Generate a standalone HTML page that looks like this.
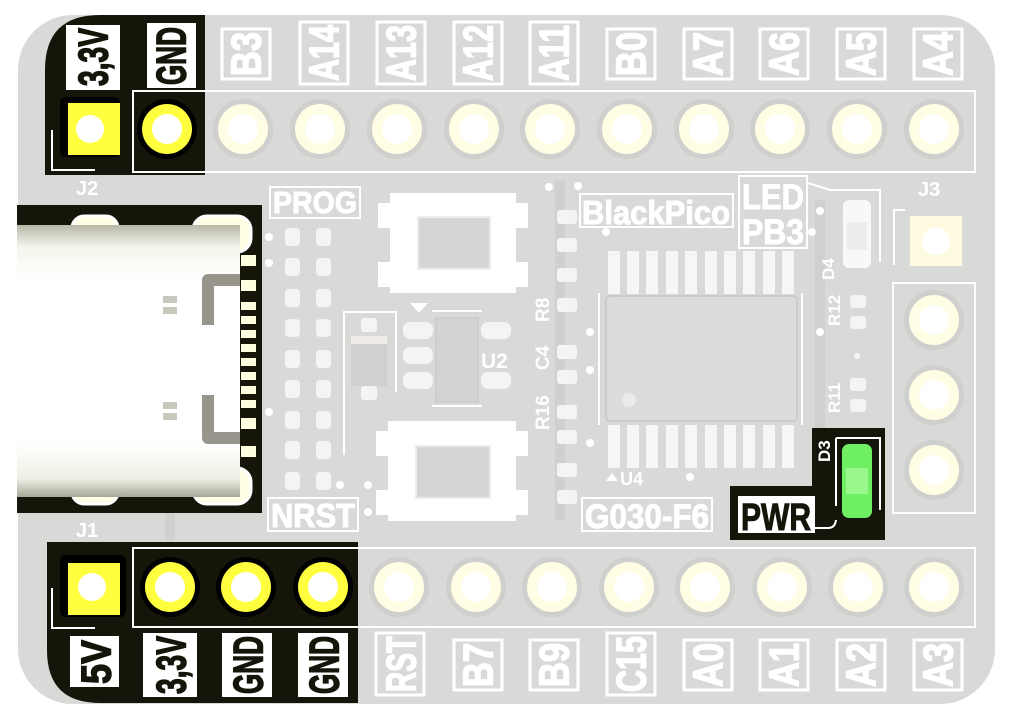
<!DOCTYPE html>
<html><head><meta charset="utf-8"><style>
html,body{margin:0;padding:0;background:#fff;}
svg{display:block;}
text{font-family:"Liberation Sans",sans-serif;font-weight:bold;}
</style></head><body>
<svg width="1009" height="721" viewBox="0 0 1009 721" xmlns="http://www.w3.org/2000/svg">
<defs>
<linearGradient id="usb" x1="0" y1="0" x2="0" y2="1">
<stop offset="0" stop-color="#b8b8a8"/><stop offset="0.08" stop-color="#f4f4ec"/><stop offset="0.2" stop-color="#fff"/><stop offset="0.8" stop-color="#fff"/><stop offset="0.93" stop-color="#f0f0e6"/><stop offset="1" stop-color="#a8a898"/>
</linearGradient>
</defs>
<rect x="18" y="15" width="977" height="689" rx="55" fill="#d9d9d7"/>
<g stroke="#d0d0ce" stroke-width="10" fill="none">
<path d="M170 260 L170 540"/><path d="M560 180 L560 520"/><path d="M820 200 L820 480"/>
</g>
<path d="M45 175 L45 70 Q45 15 100 15 L205 15 L205 175 Z" fill="#15150a"/>
<path d="M47 542 L358 542 L358 703 L100 703 Q47 703 47 650 Z" fill="#15150a"/>
<rect x="17" y="205" width="245" height="308" fill="#15150a"/>
<path d="M730 486 L812 486 L812 428 L885 428 L885 540 L730 540 Z" fill="#15150a"/>

<rect x="133" y="91" width="842" height="81" fill="none" stroke="#fff" stroke-width="2"/>
<rect x="133" y="548" width="842" height="79" fill="none" stroke="#fff" stroke-width="2"/>
<path d="M52 130 L52 170 L95 170" fill="none" stroke="#fff" stroke-width="2"/>
<path d="M52 588 L52 628 L95 628" fill="none" stroke="#fff" stroke-width="2"/>

<g>
<rect x="60" y="97" width="60" height="60" rx="6" fill="#000"/>
<rect x="68" y="103" width="52" height="52" fill="#ffff40"/>
<circle cx="90" cy="129" r="14" fill="#fff"/>
<circle cx="167" cy="129" r="30" fill="#000"/><circle cx="167" cy="129" r="25" fill="#ffff40"/><circle cx="167" cy="129" r="15" fill="#fff"/>
</g>
<g fill="#cfcfcd">
<circle cx="243" cy="129" r="30"/><circle cx="320" cy="129" r="30"/><circle cx="397" cy="129" r="30"/><circle cx="474" cy="129" r="30"/><circle cx="550" cy="129" r="30"/><circle cx="627" cy="129" r="30"/><circle cx="704" cy="129" r="30"/><circle cx="780" cy="129" r="30"/><circle cx="857" cy="129" r="30"/><circle cx="934" cy="129" r="30"/>
</g>
<g fill="#fffde4">
<circle cx="243" cy="129" r="25"/><circle cx="320" cy="129" r="25"/><circle cx="397" cy="129" r="25"/><circle cx="474" cy="129" r="25"/><circle cx="550" cy="129" r="25"/><circle cx="627" cy="129" r="25"/><circle cx="704" cy="129" r="25"/><circle cx="780" cy="129" r="25"/><circle cx="857" cy="129" r="25"/><circle cx="934" cy="129" r="25"/>
</g>
<g fill="#fff">
<circle cx="243" cy="129" r="15"/><circle cx="320" cy="129" r="15"/><circle cx="397" cy="129" r="15"/><circle cx="474" cy="129" r="15"/><circle cx="550" cy="129" r="15"/><circle cx="627" cy="129" r="15"/><circle cx="704" cy="129" r="15"/><circle cx="780" cy="129" r="15"/><circle cx="857" cy="129" r="15"/><circle cx="934" cy="129" r="15"/>
</g>

<g>
<rect x="60" y="555" width="66" height="62" rx="6" fill="#000"/>
<rect x="68" y="563" width="52" height="52" fill="#ffff40"/>
<circle cx="92" cy="587" r="14" fill="#fff"/>
<circle cx="170" cy="587" r="30" fill="#000"/><circle cx="170" cy="587" r="25" fill="#ffff40"/><circle cx="170" cy="587" r="15" fill="#fff"/>
<circle cx="246" cy="587" r="30" fill="#000"/><circle cx="246" cy="587" r="25" fill="#ffff40"/><circle cx="246" cy="587" r="15" fill="#fff"/>
<circle cx="323" cy="587" r="30" fill="#000"/><circle cx="323" cy="587" r="25" fill="#ffff40"/><circle cx="323" cy="587" r="15" fill="#fff"/>
</g>
<g fill="#cfcfcd">
<circle cx="399" cy="587" r="30"/><circle cx="476" cy="587" r="30"/><circle cx="552" cy="587" r="30"/><circle cx="629" cy="587" r="30"/><circle cx="705" cy="587" r="30"/><circle cx="782" cy="587" r="30"/><circle cx="858" cy="587" r="30"/><circle cx="934" cy="587" r="30"/>
</g>
<g fill="#fffde4">
<circle cx="399" cy="587" r="25"/><circle cx="476" cy="587" r="25"/><circle cx="552" cy="587" r="25"/><circle cx="629" cy="587" r="25"/><circle cx="705" cy="587" r="25"/><circle cx="782" cy="587" r="25"/><circle cx="858" cy="587" r="25"/><circle cx="934" cy="587" r="25"/>
</g>
<g fill="#fff">
<circle cx="399" cy="587" r="15"/><circle cx="476" cy="587" r="15"/><circle cx="552" cy="587" r="15"/><circle cx="629" cy="587" r="15"/><circle cx="705" cy="587" r="15"/><circle cx="782" cy="587" r="15"/><circle cx="858" cy="587" r="15"/><circle cx="934" cy="587" r="15"/>
</g>

<g fill="#fff">
<rect x="66" y="25" width="54" height="65"/>
<rect x="147" y="23" width="49" height="65"/>
</g>
<g fill="none" stroke="#fff" stroke-width="3">
<rect x="222" y="29" width="48" height="50"/>
<rect x="300" y="22" width="48" height="62"/>
<rect x="377" y="22" width="48" height="62"/>
<rect x="454" y="22" width="48" height="62"/>
<rect x="530" y="22" width="48" height="62"/>
<rect x="607" y="29" width="48" height="50"/>
<rect x="684" y="29" width="48" height="50"/>
<rect x="760" y="29" width="48" height="50"/>
<rect x="837" y="29" width="48" height="50"/>
<rect x="914" y="29" width="48" height="50"/>
</g>
<g font-size="42" text-anchor="middle" dominant-baseline="central" stroke-width="1.5">
<text transform="translate(93,57) rotate(-90)" fill="#15150a" stroke="#15150a" textLength="58" lengthAdjust="spacingAndGlyphs">3,3V</text>
<text transform="translate(171,56) rotate(-90)" fill="#15150a" stroke="#15150a" textLength="58" lengthAdjust="spacingAndGlyphs">GND</text>
<text transform="translate(246,54) rotate(-90)" fill="#fff" stroke="#fff" textLength="44" lengthAdjust="spacingAndGlyphs">B3</text>
<text transform="translate(324,53) rotate(-90)" fill="#fff" stroke="#fff" textLength="56" lengthAdjust="spacingAndGlyphs">A14</text>
<text transform="translate(401,53) rotate(-90)" fill="#fff" stroke="#fff" textLength="56" lengthAdjust="spacingAndGlyphs">A13</text>
<text transform="translate(478,53) rotate(-90)" fill="#fff" stroke="#fff" textLength="56" lengthAdjust="spacingAndGlyphs">A12</text>
<text transform="translate(554,53) rotate(-90)" fill="#fff" stroke="#fff" textLength="56" lengthAdjust="spacingAndGlyphs">A11</text>
<text transform="translate(631,54) rotate(-90)" fill="#fff" stroke="#fff" textLength="44" lengthAdjust="spacingAndGlyphs">B0</text>
<text transform="translate(708,54) rotate(-90)" fill="#fff" stroke="#fff" textLength="44" lengthAdjust="spacingAndGlyphs">A7</text>
<text transform="translate(784,54) rotate(-90)" fill="#fff" stroke="#fff" textLength="44" lengthAdjust="spacingAndGlyphs">A6</text>
<text transform="translate(861,54) rotate(-90)" fill="#fff" stroke="#fff" textLength="44" lengthAdjust="spacingAndGlyphs">A5</text>
<text transform="translate(938,54) rotate(-90)" fill="#fff" stroke="#fff" textLength="44" lengthAdjust="spacingAndGlyphs">A4</text>
</g>

<g fill="#fff">
<rect x="70" y="636" width="49" height="51"/>
<rect x="143" y="633" width="54" height="64"/>
<rect x="222" y="633" width="50" height="64"/>
<rect x="298" y="633" width="50" height="64"/>
</g>
<g fill="none" stroke="#fff" stroke-width="3">
<rect x="376" y="633" width="48" height="62"/>
<rect x="454" y="640" width="48" height="50"/>
<rect x="530" y="640" width="48" height="50"/>
<rect x="607" y="633" width="48" height="62"/>
<rect x="684" y="640" width="48" height="50"/>
<rect x="760" y="640" width="48" height="50"/>
<rect x="837" y="640" width="48" height="50"/>
<rect x="914" y="640" width="48" height="50"/>
</g>
<g font-size="42" text-anchor="middle" dominant-baseline="central" stroke-width="1.5">
<text transform="translate(96,662) rotate(-90)" fill="#15150a" stroke="#15150a" textLength="44" lengthAdjust="spacingAndGlyphs">5V</text>
<text transform="translate(171,665) rotate(-90)" fill="#15150a" stroke="#15150a" textLength="58" lengthAdjust="spacingAndGlyphs">3,3V</text>
<text transform="translate(248,665) rotate(-90)" fill="#15150a" stroke="#15150a" textLength="58" lengthAdjust="spacingAndGlyphs">GND</text>
<text transform="translate(324,665) rotate(-90)" fill="#15150a" stroke="#15150a" textLength="58" lengthAdjust="spacingAndGlyphs">GND</text>
<text transform="translate(401,664) rotate(-90)" fill="#fff" stroke="#fff" textLength="56" lengthAdjust="spacingAndGlyphs">RST</text>
<text transform="translate(478,665) rotate(-90)" fill="#fff" stroke="#fff" textLength="44" lengthAdjust="spacingAndGlyphs">B7</text>
<text transform="translate(554,665) rotate(-90)" fill="#fff" stroke="#fff" textLength="44" lengthAdjust="spacingAndGlyphs">B9</text>
<text transform="translate(631,664) rotate(-90)" fill="#fff" stroke="#fff" textLength="56" lengthAdjust="spacingAndGlyphs">C15</text>
<text transform="translate(708,665) rotate(-90)" fill="#fff" stroke="#fff" textLength="44" lengthAdjust="spacingAndGlyphs">A0</text>
<text transform="translate(784,665) rotate(-90)" fill="#fff" stroke="#fff" textLength="44" lengthAdjust="spacingAndGlyphs">A1</text>
<text transform="translate(861,665) rotate(-90)" fill="#fff" stroke="#fff" textLength="44" lengthAdjust="spacingAndGlyphs">A2</text>
<text transform="translate(938,665) rotate(-90)" fill="#fff" stroke="#fff" textLength="44" lengthAdjust="spacingAndGlyphs">A3</text>
</g>

<g fill="#fff" font-size="20">
<text x="76" y="195">J2</text>
<text x="76" y="537">J1</text>
<text x="918" y="196">J3</text>
</g>

<g fill="#fffde4" stroke="#fff" stroke-width="3">
<rect x="72" y="216" width="46" height="28" rx="12"/>
<rect x="193" y="216" width="58" height="36" rx="14"/>
<rect x="72" y="474" width="46" height="30" rx="12"/>
<rect x="193" y="468" width="58" height="36" rx="14"/>
</g>
<rect x="17" y="225" width="223" height="272" fill="url(#usb)"/>
<g fill="#fffde0">
<rect x="241" y="255" width="15" height="11"/><rect x="241" y="280" width="15" height="11"/><rect x="241" y="302" width="15" height="8"/><rect x="241" y="316" width="15" height="8"/><rect x="241" y="330" width="15" height="8"/><rect x="241" y="344" width="15" height="8"/><rect x="241" y="358" width="15" height="8"/><rect x="241" y="372" width="15" height="8"/><rect x="241" y="386" width="15" height="8"/><rect x="241" y="400" width="15" height="8"/><rect x="241" y="418" width="15" height="11"/><rect x="241" y="446" width="15" height="11"/>
</g>
<path d="M240 280 L208 280 L208 325" fill="none" stroke="#98968c" stroke-width="12" stroke-linejoin="round"/>
<path d="M240 438 L208 438 L208 395" fill="none" stroke="#98968c" stroke-width="12" stroke-linejoin="round"/>
<g fill="#c8c8bc"><rect x="163" y="296" width="14" height="7"/><rect x="163" y="307" width="14" height="7"/><rect x="163" y="402" width="14" height="7"/><rect x="163" y="413" width="14" height="7"/></g>

<rect x="270" y="187" width="90" height="31" fill="none" stroke="#fff" stroke-width="2"/>
<text x="315" y="213" font-size="31" fill="#fff" stroke="#fff" stroke-width="1" text-anchor="middle" textLength="84" lengthAdjust="spacingAndGlyphs">PROG</text>
<rect x="268" y="498" width="90" height="33" fill="none" stroke="#fff" stroke-width="2"/>
<text x="313" y="527" font-size="33" fill="#fff" stroke="#fff" stroke-width="1" text-anchor="middle" textLength="84" lengthAdjust="spacingAndGlyphs">NRST</text>

<g fill="#f4f4f2">
<rect x="285" y="228" width="15" height="18" rx="4"/><rect x="316" y="228" width="15" height="18" rx="4"/>
<rect x="285" y="258" width="15" height="18" rx="4"/><rect x="316" y="258" width="15" height="18" rx="4"/>
<rect x="285" y="289" width="15" height="18" rx="4"/><rect x="316" y="289" width="15" height="18" rx="4"/>
<rect x="285" y="319" width="15" height="18" rx="4"/><rect x="316" y="319" width="15" height="18" rx="4"/>
<rect x="285" y="350" width="15" height="18" rx="4"/><rect x="316" y="350" width="15" height="18" rx="4"/>
<rect x="285" y="380" width="15" height="18" rx="4"/><rect x="316" y="380" width="15" height="18" rx="4"/>
<rect x="285" y="411" width="15" height="18" rx="4"/><rect x="316" y="411" width="15" height="18" rx="4"/>
<rect x="285" y="441" width="15" height="18" rx="4"/><rect x="316" y="441" width="15" height="18" rx="4"/>
<rect x="285" y="472" width="15" height="18" rx="4"/><rect x="316" y="472" width="15" height="18" rx="4"/>
</g>

<g fill="#fff">
<rect x="390" y="193" width="126" height="100"/>
<rect x="378" y="203" width="14" height="25"/><rect x="514" y="203" width="14" height="25"/>
<rect x="378" y="262" width="14" height="25"/><rect x="514" y="262" width="14" height="25"/>
<rect x="388" y="421" width="128" height="100"/>
<rect x="376" y="431" width="14" height="25"/><rect x="514" y="431" width="14" height="25"/>
<rect x="376" y="490" width="14" height="25"/><rect x="514" y="490" width="14" height="25"/>
</g>
<g fill="#d5d5d3" stroke="#ececea" stroke-width="2">
<rect x="418" y="217" width="72" height="52"/>
<rect x="416" y="446" width="74" height="52"/>
</g>

<path d="M344 455 L344 312 L396 312 L396 392" fill="none" stroke="#fff" stroke-width="2"/>
<rect x="351" y="336" width="36" height="50" fill="#d0d0ce"/>
<rect x="351" y="336" width="36" height="8" fill="#f0ece8"/>
<rect x="361" y="318" width="16" height="14" rx="3" fill="#f4f4f2"/>
<rect x="361" y="386" width="16" height="14" rx="3" fill="#f4f4f2"/>
<path d="M410 303 L428 303 L419 313 Z" fill="#fff"/>
<g fill="#f4f4f2">
<rect x="403" y="322" width="30" height="17" rx="7"/><rect x="403" y="347" width="30" height="17" rx="7"/><rect x="403" y="372" width="30" height="17" rx="7"/>
<rect x="481" y="322" width="30" height="17" rx="7"/><rect x="481" y="372" width="30" height="17" rx="7"/>
</g>
<rect x="436" y="318" width="42" height="84" fill="#d3d3d1" stroke="#c4c4c2"/>
<line x1="432" y1="311" x2="482" y2="311" stroke="#fff" stroke-width="2"/>
<line x1="432" y1="406" x2="482" y2="406" stroke="#fff" stroke-width="2"/>
<text x="481" y="368" font-size="21" fill="#fff">U2</text>

<g font-size="19" fill="#fff">
<text transform="translate(549,322) rotate(-90)">R8</text>
<text transform="translate(549,370) rotate(-90)">C4</text>
<text transform="translate(549,430) rotate(-90)">R16</text>
</g>
<g fill="#f4f4f2">
<rect x="557" y="210" width="20" height="14" rx="3"/><rect x="557" y="238" width="20" height="14" rx="3"/>
<rect x="557" y="268" width="20" height="14" rx="3"/><rect x="557" y="298" width="20" height="14" rx="3"/>
<rect x="557" y="345" width="20" height="14" rx="3"/><rect x="557" y="370" width="20" height="14" rx="3"/>
<rect x="557" y="405" width="20" height="14" rx="3"/><rect x="557" y="430" width="20" height="14" rx="3"/>
<rect x="557" y="463" width="20" height="14" rx="3"/><rect x="557" y="490" width="20" height="14" rx="3"/>
</g>

<rect x="580" y="194" width="153" height="33" fill="none" stroke="#fff" stroke-width="2"/>
<text x="656" y="224" font-size="33" fill="#fff" stroke="#fff" stroke-width="1" text-anchor="middle" textLength="148" lengthAdjust="spacingAndGlyphs">BlackPico</text>
<rect x="739" y="176" width="68" height="72" fill="none" stroke="#fff" stroke-width="2"/>
<text x="773" y="209" font-size="35" fill="#fff" stroke="#fff" stroke-width="1" text-anchor="middle" textLength="62" lengthAdjust="spacingAndGlyphs">LED</text>
<text x="773" y="244" font-size="35" fill="#fff" stroke="#fff" stroke-width="1" text-anchor="middle" textLength="62" lengthAdjust="spacingAndGlyphs">PB3</text>

<g fill="#f6f6f4">
<rect x="608" y="251" width="12" height="43"/><rect x="627" y="251" width="12" height="43"/><rect x="646" y="251" width="12" height="43"/><rect x="666" y="251" width="12" height="43"/><rect x="685" y="251" width="12" height="43"/><rect x="705" y="251" width="12" height="43"/><rect x="724" y="251" width="12" height="43"/><rect x="743" y="251" width="12" height="43"/><rect x="763" y="251" width="12" height="43"/><rect x="782" y="251" width="12" height="43"/>
<rect x="608" y="425" width="12" height="43"/><rect x="627" y="425" width="12" height="43"/><rect x="646" y="425" width="12" height="43"/><rect x="666" y="425" width="12" height="43"/><rect x="685" y="425" width="12" height="43"/><rect x="705" y="425" width="12" height="43"/><rect x="724" y="425" width="12" height="43"/><rect x="743" y="425" width="12" height="43"/><rect x="763" y="425" width="12" height="43"/><rect x="782" y="425" width="12" height="43"/>
</g>
<rect x="606" y="296" width="191" height="125" rx="4" fill="#dcdcda" stroke="#cbcbc9" stroke-width="2"/>
<circle cx="629" cy="400" r="7" fill="#ebebe9"/>
<line x1="599" y1="293" x2="599" y2="425" stroke="#fff" stroke-width="2"/>
<line x1="802" y1="293" x2="802" y2="425" stroke="#fff" stroke-width="2"/>
<path d="M606 481 L618 481 L612 473 Z" fill="#fff"/>
<text x="620" y="485" font-size="18" fill="#fff">U4</text>
<rect x="582" y="498" width="130" height="33" fill="none" stroke="#fff" stroke-width="2"/>
<text x="647" y="528" font-size="34" fill="#fff" stroke="#fff" stroke-width="1" text-anchor="middle" textLength="124" lengthAdjust="spacingAndGlyphs">G030-F6</text>

<path d="M808 183 L830 190 L880 190 L880 262" fill="none" stroke="#fff" stroke-width="2"/>
<rect x="843" y="200" width="28" height="68" rx="6" fill="#f8f8f6"/>
<rect x="847" y="222" width="20" height="28" fill="#ececea"/>
<g font-size="17" fill="#fff">
<text transform="translate(834,280) rotate(-90)">D4</text>
<text transform="translate(840,326) rotate(-90)">R12</text>
<text transform="translate(840,413) rotate(-90)">R11</text>
</g>
<g fill="#f4f4f2">
<rect x="850" y="295" width="16" height="13" rx="3"/><rect x="850" y="316" width="16" height="13" rx="3"/>
<rect x="850" y="378" width="16" height="13" rx="3"/><rect x="850" y="399" width="16" height="13" rx="3"/>
<circle cx="857" cy="356" r="3"/><circle cx="820" cy="333" r="3"/>
</g>

<path d="M836 438 L880 438 L880 510" fill="none" stroke="#fff" stroke-width="2"/>
<line x1="836" y1="438" x2="836" y2="506" stroke="#fff" stroke-width="2"/>
<rect x="842" y="444" width="30" height="74" rx="7" fill="#6ef062"/>
<rect x="846" y="468" width="22" height="26" fill="#9af78c"/>
<text transform="translate(830,462) rotate(-90)" font-size="17" fill="#fff">D3</text>
<rect x="738" y="496" width="77" height="37" fill="#fff"/>
<text x="776" y="530" font-size="38" fill="#15150a" stroke="#15150a" stroke-width="1" text-anchor="middle" textLength="70" lengthAdjust="spacingAndGlyphs">PWR</text>
<path d="M815 528 L828 528 Q835 528 836 520" fill="none" stroke="#fff" stroke-width="2"/>

<rect x="893" y="283" width="82" height="230" fill="none" stroke="#fff" stroke-width="2"/>
<path d="M894 265 L894 210 L905 210" fill="none" stroke="#fff" stroke-width="2"/>
<rect x="910" y="216" width="52" height="50" fill="#fffbe0"/>
<circle cx="936" cy="241" r="14" fill="#fff"/>
<g fill="#cfcfcd"><circle cx="934" cy="320" r="30"/><circle cx="934" cy="395" r="30"/><circle cx="934" cy="470" r="30"/></g>
<g fill="#fffde4"><circle cx="934" cy="320" r="25"/><circle cx="934" cy="395" r="25"/><circle cx="934" cy="470" r="25"/></g>
<g fill="#fff"><circle cx="934" cy="320" r="15"/><circle cx="934" cy="395" r="15"/><circle cx="934" cy="470" r="15"/></g>

<g fill="#fff">
<circle cx="269" cy="237" r="4"/><circle cx="269" cy="263" r="4"/><circle cx="269" cy="412" r="4"/><circle cx="340" cy="485" r="4"/><circle cx="368" cy="485" r="4"/><circle cx="368" cy="512" r="4"/>
<circle cx="549" cy="187" r="4"/><circle cx="578" cy="186" r="4"/><circle cx="606" cy="232" r="4"/><circle cx="590" cy="332" r="4"/><circle cx="590" cy="370" r="4"/><circle cx="590" cy="443" r="4"/><circle cx="690" cy="477" r="4"/><circle cx="820" cy="211" r="4"/><circle cx="812" cy="232" r="4"/><circle cx="820" cy="332" r="4"/>
</g>
</svg>
</body></html>
